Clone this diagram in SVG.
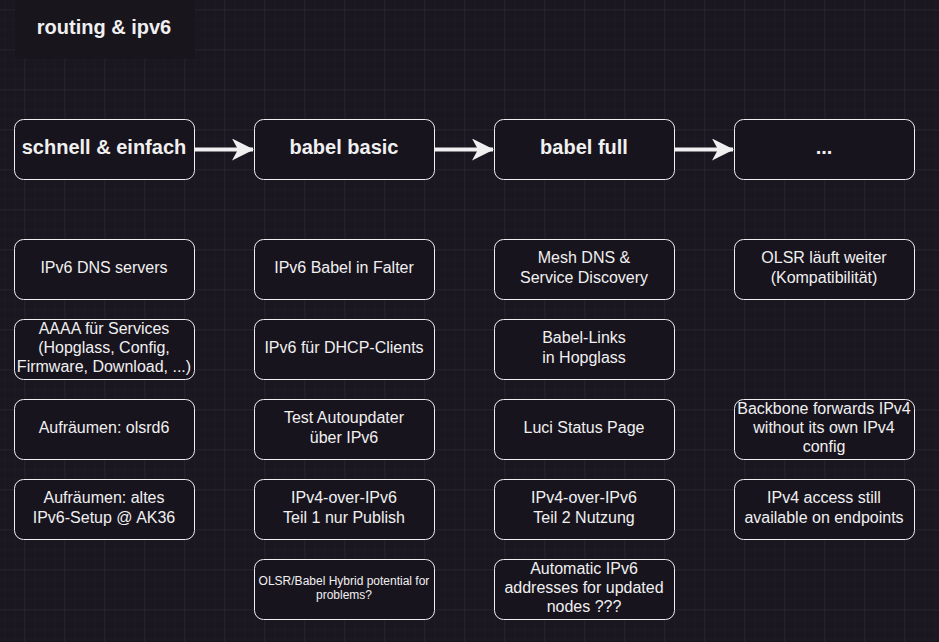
<svg xmlns="http://www.w3.org/2000/svg" width="939" height="642" viewBox="0 0 939 642">
<defs>
<pattern id="minor" x="4.3" y="9.3" width="10" height="10" patternUnits="userSpaceOnUse">
<path d="M0 0H10M0 0V10" fill="none" stroke="#211e27" stroke-width="1"/>
</pattern>
<pattern id="major" x="24.3" y="9.3" width="40" height="40" patternUnits="userSpaceOnUse">
<path d="M0 0H40M0 0V40" fill="none" stroke="#302e35" stroke-width="1"/>
</pattern>
<marker id="arrow" viewBox="0 0 22 22" refX="21" refY="11" markerWidth="22" markerHeight="22" markerUnits="userSpaceOnUse" orient="auto">
<path d="M0 0L22 11L0 22L6 11Z" fill="#f0f0f0"/>
</marker>
</defs>
<style>
.n{fill:#18141e;stroke:#f0f0f0;stroke-width:1}
.t{font-family:"Liberation Sans",Arial,Helvetica,sans-serif;fill:#f0f0f0;text-anchor:middle}
.h{font-size:20px;font-weight:bold}
.b{font-size:16px}
.s{font-size:12px}
.c{stroke:#f0f0f0;stroke-width:4;fill:none}
</style>
<rect width="939" height="642" fill="#1a1720"/>
<rect width="939" height="642" fill="url(#minor)"/>
<rect width="939" height="642" fill="url(#major)"/>
<g id="title">
<rect x="15" y="0" width="180" height="59" fill="#18151d"/>
<text class="t h" x="104" y="34">routing &amp; ipv6</text>
</g>
<g id="connectors">
<path class="c" d="M195 149.5H253" marker-end="url(#arrow)"/>
<path class="c" d="M435 149.5H493" marker-end="url(#arrow)"/>
<path class="c" d="M675 149.5H733" marker-end="url(#arrow)"/>
</g>
<g id="h1"><rect class="n" x="14.5" y="119.5" width="180" height="60" rx="9"/><text class="t h" x="104" y="154">schnell &amp; einfach</text></g>
<g id="h2"><rect class="n" x="254.5" y="119.5" width="180" height="60" rx="9"/><text class="t h" x="344" y="154">babel basic</text></g>
<g id="h3"><rect class="n" x="494.5" y="119.5" width="180" height="60" rx="9"/><text class="t h" x="584" y="154">babel full</text></g>
<g id="h4"><rect class="n" x="734.5" y="119.5" width="180" height="60" rx="9"/><text class="t h" x="824" y="154">...</text></g>

<g id="a1"><rect class="n" x="14.5" y="239.5" width="180" height="60" rx="9"/><text class="t b" x="104" y="273">IPv6 DNS servers</text></g>
<g id="a2"><rect class="n" x="14.5" y="319.5" width="180" height="60" rx="9"/><text class="t b" x="104" y="334">AAAA für Services</text><text class="t b" x="104" y="353">(Hopglass, Config,</text><text class="t b" x="104" y="372">Firmware, Download, ...)</text></g>
<g id="a3"><rect class="n" x="14.5" y="399.5" width="180" height="60" rx="9"/><text class="t b" x="104" y="433">Aufräumen: olsrd6</text></g>
<g id="a4"><rect class="n" x="14.5" y="479.5" width="180" height="60" rx="9"/><text class="t b" x="104" y="503">Aufräumen: altes</text><text class="t b" x="104" y="523">IPv6-Setup @ AK36</text></g>

<g id="b1"><rect class="n" x="254.5" y="239.5" width="180" height="60" rx="9"/><text class="t b" x="344" y="273">IPv6 Babel in Falter</text></g>
<g id="b2"><rect class="n" x="254.5" y="319.5" width="180" height="60" rx="9"/><text class="t b" x="344" y="353">IPv6 für DHCP-Clients</text></g>
<g id="b3"><rect class="n" x="254.5" y="399.5" width="180" height="60" rx="9"/><text class="t b" x="344" y="423">Test Autoupdater</text><text class="t b" x="344" y="443">über IPv6</text></g>
<g id="b4"><rect class="n" x="254.5" y="479.5" width="180" height="60" rx="9"/><text class="t b" x="344" y="503">IPv4-over-IPv6</text><text class="t b" x="344" y="523">Teil 1 nur Publish</text></g>
<g id="b5"><rect class="n" x="254.5" y="559.5" width="180" height="60" rx="9"/><text class="t s" x="344" y="585">OLSR/Babel Hybrid potential for</text><text class="t s" x="344" y="599">problems?</text></g>

<g id="c1"><rect class="n" x="494.5" y="239.5" width="180" height="60" rx="9"/><text class="t b" x="584" y="263">Mesh DNS &amp;</text><text class="t b" x="584" y="283">Service Discovery</text></g>
<g id="c2"><rect class="n" x="494.5" y="319.5" width="180" height="60" rx="9"/><text class="t b" x="584" y="343">Babel-Links</text><text class="t b" x="584" y="363">in Hopglass</text></g>
<g id="c3"><rect class="n" x="494.5" y="399.5" width="180" height="60" rx="9"/><text class="t b" x="584" y="433">Luci Status Page</text></g>
<g id="c4"><rect class="n" x="494.5" y="479.5" width="180" height="60" rx="9"/><text class="t b" x="584" y="503">IPv4-over-IPv6</text><text class="t b" x="584" y="523">Teil 2 Nutzung</text></g>
<g id="c5"><rect class="n" x="494.5" y="559.5" width="180" height="60" rx="9"/><text class="t b" x="584" y="574">Automatic IPv6</text><text class="t b" x="584" y="593">addresses for updated</text><text class="t b" x="584" y="612">nodes ???</text></g>

<g id="d1"><rect class="n" x="734.5" y="239.5" width="180" height="60" rx="9"/><text class="t b" x="824" y="263">OLSR läuft weiter</text><text class="t b" x="824" y="283">(Kompatibilität)</text></g>
<g id="d3"><rect class="n" x="734.5" y="399.5" width="180" height="60" rx="9"/><text class="t b" x="824" y="414">Backbone forwards IPv4</text><text class="t b" x="824" y="433">without its own IPv4</text><text class="t b" x="824" y="452">config</text></g>
<g id="d4"><rect class="n" x="734.5" y="479.5" width="180" height="60" rx="9"/><text class="t b" x="824" y="503">IPv4 access still</text><text class="t b" x="824" y="523">available on endpoints</text></g>
</svg>
